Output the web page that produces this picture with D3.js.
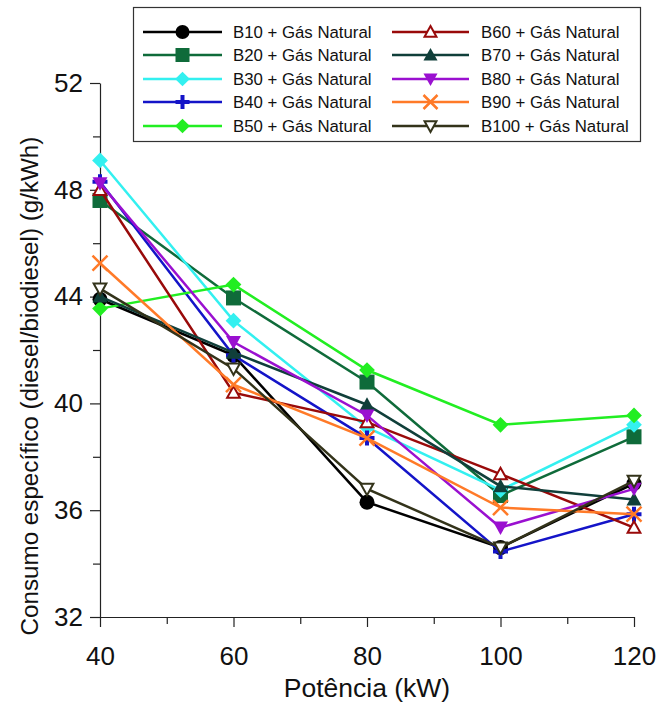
<!DOCTYPE html>
<html>
<head>
<meta charset="utf-8">
<script src="https://cdn.jsdelivr.net/npm/d3@7"></script>
<style>
  html, body { margin: 0; padding: 0; background: #fff; }
  svg { display: block; font-family: "Liberation Sans", Arial, sans-serif; }
</style>
</head>
<body>
<svg id="chart" width="656" height="703"></svg>
<script>
// Engine power (kW)
const potencia = [40, 60, 80, 100, 120];

// Specific consumption of diesel/biodiesel (g/kWh) for each blend
const b10  = [43.9, 41.8, 36.3, 34.6, 37.0];
const b20  = [47.6, 43.95, 40.8, 36.55, 38.75];
const b30  = [49.1, 43.1, 39.1, 36.75, 39.2];
const b40  = [48.3, 41.8, 38.7, 34.45, 35.85];
const b50  = [43.55, 44.45, 41.25, 39.2, 39.55];
const b60  = [48.0, 40.4, 39.3, 37.35, 35.35];
const b70  = [44.0, 41.9, 39.95, 36.9, 36.4];
const b80  = [48.25, 42.3, 39.55, 35.35, 36.8];
const b90  = [45.25, 40.7, 38.7, 36.1, 35.85];
const b100 = [44.3, 41.3, 36.8, 34.6, 37.1];

const seriesNames = ["B10 + Gás Natural", "B20 + Gás Natural", "B30 + Gás Natural",
  "B40 + Gás Natural", "B50 + Gás Natural", "B60 + Gás Natural", "B70 + Gás Natural",
  "B80 + Gás Natural", "B90 + Gás Natural", "B100 + Gás Natural"];
const seriesValues = [b10, b20, b30, b40, b50, b60, b70, b80, b90, b100];

const xTicks = [40, 60, 80, 100, 120];
const yTicks = [32, 36, 40, 44, 48, 52];

const colors = ["#000000", "#0f6b3a", "#33f0f0", "#1414c8", "#22ee22",
  "#990a0a", "#103f3a", "#9a10d0", "#ff7a28", "#33331a"];
const markers = ["circle", "square", "diamond", "plus", "diamond",
  "triUpOpen", "triUp", "triDown", "cross", "triDownOpen"];

const svg = d3.select("#chart");
const x = d3.scaleLinear().domain([40, 120]).range([100, 634]);
const y = d3.scaleLinear().domain([32, 52]).range([617, 83]);

// Axes: minor ticks first, then labelled major ticks
const gx = svg.append("g").attr("transform", `translate(0,${y(32)})`);
gx.call(d3.axisBottom(x).tickValues([50, 70, 90, 110]).tickSize(7).tickFormat(""));
gx.call(g => g.select(".domain").remove());
const gx2 = svg.append("g").attr("transform", `translate(0,${y(32)})`)
  .call(d3.axisBottom(x).tickValues(xTicks).tickSize(10).tickSizeOuter(0).tickPadding(18)
    .tickFormat(d3.format("d")));
gx2.selectAll("text").attr("font-size", 26).attr("fill", "#111").attr("dy", "0.78em");

const gy = svg.append("g").attr("transform", `translate(${x(40)},0)`);
gy.call(d3.axisLeft(y).tickValues([34, 38, 42, 46, 50]).tickSize(7).tickFormat(""));
gy.call(g => g.select(".domain").remove());
const gy2 = svg.append("g").attr("transform", `translate(${x(40)},0)`)
  .call(d3.axisLeft(y).tickValues(yTicks).tickSize(10).tickSizeOuter(0).tickPadding(7)
    .tickFormat(d3.format("d")));
gy2.selectAll("text").attr("font-size", 26).attr("fill", "#111");

svg.selectAll(".tick line").attr("stroke", "#222").attr("stroke-width", 1.2);
svg.selectAll(".domain").attr("stroke", "#222").attr("stroke-width", 1.2);

// Axis titles
svg.append("text")
  .attr("x", (x(40) + x(120)) / 2).attr("y", 697)
  .attr("text-anchor", "middle").attr("font-size", 26.5).attr("fill", "#111")
  .text("Potência (kW)");
svg.append("text")
  .attr("transform", `translate(38,${386}) rotate(-90)`)
  .attr("text-anchor", "middle").attr("font-size", 24.2).attr("fill", "#111")
  .text("Consumo específico (diesel/biodiesel) (g/kWh)");

// Marker drawing helper
function drawMarker(g, type, color, cx, cy, s) {
  const h = s / 2;
  switch (type) {
    case "circle":
      g.append("circle").attr("cx", cx).attr("cy", cy).attr("r", h).attr("fill", color);
      break;
    case "square":
      g.append("rect").attr("x", cx - h).attr("y", cy - h).attr("width", s).attr("height", s)
        .attr("fill", color);
      break;
    case "diamond":
      g.append("path").attr("d", `M${cx},${cy - h * 1.05}L${cx + h * 1.05},${cy}L${cx},${cy + h * 1.05}L${cx - h * 1.05},${cy}Z`)
        .attr("fill", color);
      break;
    case "plus":
      g.append("path").attr("d", `M${cx - h},${cy}L${cx + h},${cy}M${cx},${cy - h}L${cx},${cy + h}`)
        .attr("stroke", color).attr("stroke-width", 4).attr("fill", "none");
      break;
    case "cross":
      g.append("path").attr("d", `M${cx - h},${cy - h}L${cx + h},${cy + h}M${cx + h},${cy - h}L${cx - h},${cy + h}`)
        .attr("stroke", color).attr("stroke-width", 2.5).attr("fill", "none");
      break;
    case "triUp":
    case "triUpOpen": {
      const open = type === "triUpOpen";
      const hh = open ? h * 0.85 : h;
      g.append("path").attr("d", `M${cx},${cy - hh}L${cx + hh},${cy + hh * 0.8}L${cx - hh},${cy + hh * 0.8}Z`)
        .attr("fill", open ? "#fff" : color)
        .attr("stroke", color).attr("stroke-width", open ? 2 : 0);
      break;
    }
    case "triDown":
    case "triDownOpen": {
      const open = type === "triDownOpen";
      const hh = open ? h * 0.85 : h;
      g.append("path").attr("d", `M${cx},${cy + hh}L${cx + hh},${cy - hh * 0.8}L${cx - hh},${cy - hh * 0.8}Z`)
        .attr("fill", open ? "#fff" : color)
        .attr("stroke", color).attr("stroke-width", open ? 2 : 0);
      break;
    }
  }
}

// Series: line followed by its markers
const line = d3.line().x((d, i) => x(potencia[i])).y(d => y(d));
seriesValues.forEach((vals, k) => {
  const g = svg.append("g");
  g.append("path").datum(vals).attr("d", line)
    .attr("fill", "none").attr("stroke", colors[k]).attr("stroke-width", 2.5);
  vals.forEach((v, i) => drawMarker(g, markers[k], colors[k], x(potencia[i]), y(v), 15));
});

// Legend
const legend = svg.append("g");
legend.append("rect").attr("x", 133.5).attr("y", 7.5).attr("width", 507).attr("height", 134)
  .attr("fill", "#fff").attr("stroke", "#333").attr("stroke-width", 1.2);
const rowY = [32, 55, 79, 102, 126];
seriesNames.forEach((name, k) => {
  const col = k < 5 ? 0 : 1;
  const ry = rowY[k % 5];
  const x0 = col === 0 ? 143 : 392;
  const x1 = col === 0 ? 222 : 469;
  const lg = legend.append("g");
  lg.append("line").attr("x1", x0).attr("x2", x1).attr("y1", ry).attr("y2", ry)
    .attr("stroke", colors[k]).attr("stroke-width", 2.5);
  drawMarker(lg, markers[k], colors[k], (x0 + x1) / 2, ry, 14);
  lg.append("text").attr("x", col === 0 ? 233 : 481).attr("y", ry).attr("dy", "0.36em")
    .attr("font-size", 16.8).attr("fill", "#111").text(name);
});
</script>
</body>
</html>
